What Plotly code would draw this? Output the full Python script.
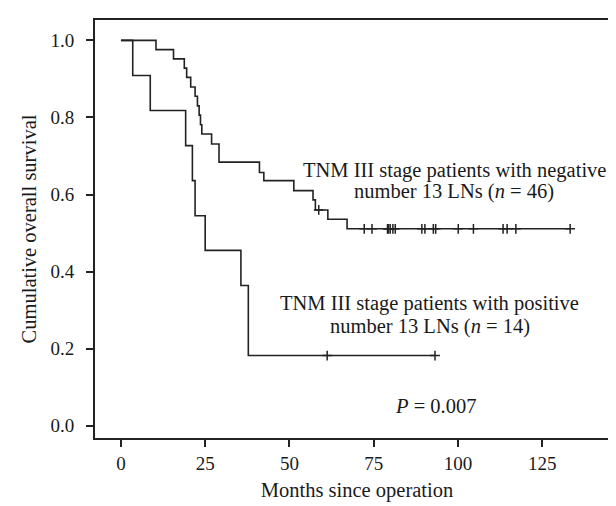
import plotly.graph_objects as go

# Kaplan-Meier data
neg_times = [0, 10.4, 15.6, 18.8, 19.5, 20.7, 22.0, 22.7, 23.2, 23.6, 24.0, 26.9, 29.1,
             41.1, 42.4, 51.3, 57.0, 57.7, 61.4, 67.1, 133.3]
neg_surv = [1.0, 0.976, 0.952, 0.928, 0.904, 0.879, 0.855, 0.830, 0.806, 0.781, 0.757,
            0.731, 0.684, 0.657, 0.636, 0.610, 0.586, 0.560, 0.536, 0.511, 0.511]
neg_censor = [58.7, 72.2, 74.5, 79.1, 79.4, 79.9, 80.7, 81.4, 89.3, 90.2, 92.7, 93.4,
              100.1, 104.6, 113.4, 114.6, 117.2, 133.3]

pos_times = [0, 3.5, 8.7, 19.2, 21.2, 22.0, 25.0, 35.6, 37.8, 93.2]
pos_surv = [1.0, 0.909, 0.818, 0.727, 0.636, 0.545, 0.455, 0.364, 0.182, 0.182]
pos_censor = [61.2, 93.2]

x_ticks = [0, 25, 50, 75, 100, 125]
y_ticks = [0.0, 0.2, 0.4, 0.6, 0.8, 1.0]


def surv_at(t, times, surv):
    s = surv[0]
    for ti, si in zip(times, surv):
        if ti <= t:
            s = si
    return s


FONT = "Liberation Serif"
LC = "#222222"

fig = go.Figure()
for times, surv, cens in [(neg_times, neg_surv, neg_censor), (pos_times, pos_surv, pos_censor)]:
    fig.add_trace(go.Scatter(x=times, y=surv, mode="lines", line=dict(shape="hv", color=LC, width=1.6),
                             showlegend=False, hoverinfo="skip"))
    fig.add_trace(go.Scatter(x=cens, y=[surv_at(c, times, surv) for c in cens], mode="markers",
                             marker=dict(symbol="cross-thin", size=7, line=dict(color=LC, width=1.5)),
                             showlegend=False, hoverinfo="skip"))

annots = [
    dict(x=98.9, y=0.663, text="TNM III stage patients with negative"),
    dict(x=98.9, y=0.607, text="number 13 LNs (<i>n</i> = 46)"),
    dict(x=91.7, y=0.318, text="TNM III stage patients with positive"),
    dict(x=91.7, y=0.258, text="number 13 LNs (<i>n</i> = 14)"),
    dict(x=93.4, y=0.05, text="<i>P</i> = 0.007"),
]
for a in annots:
    fig.add_annotation(x=a["x"], y=a["y"], text=a["text"], showarrow=False, xanchor="center",
                       yanchor="middle", font=dict(family=FONT, size=20.5, color="#1a1a1a"))

fig.update_layout(
    width=616, height=506,
    margin=dict(l=87, r=3, t=12, b=76),
    paper_bgcolor="white", plot_bgcolor="white",
    font=dict(family=FONT, size=19, color="#1a1a1a"),
    xaxis=dict(range=[-7.7, 147.8], tickvals=x_ticks, ticktext=[str(v) for v in x_ticks],
               showgrid=False, zeroline=False, showline=True, mirror=True, linecolor="#222",
               linewidth=2, ticks="outside", ticklen=7, tickwidth=1.5, tickcolor="#222",
               title=dict(text="Months since operation", font=dict(size=20.5), standoff=10)),
    yaxis=dict(range=[-0.032, 1.053], tickvals=y_ticks, ticktext=["%.1f" % v for v in y_ticks],
               showgrid=False, zeroline=False, showline=True, mirror=True, linecolor="#222",
               linewidth=2, ticks="outside", ticklen=7, tickwidth=1.5, tickcolor="#222",
               ticklabelstandoff=8,
               title=dict(text="Cumulative overall survival", font=dict(size=20.5), standoff=8)),
)

fig.write_html("out.html")
